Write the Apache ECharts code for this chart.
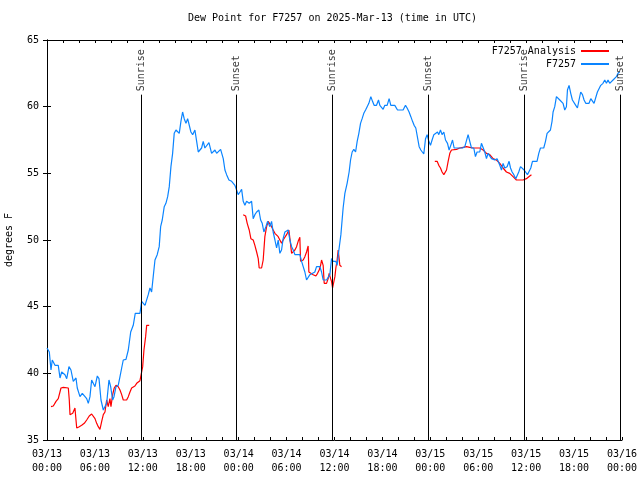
<!DOCTYPE html>
<html>
<head>
<meta charset="utf-8">
<script src="https://cdn.jsdelivr.net/npm/echarts@6/dist/echarts.min.js"></script>
<style>html,body{margin:0;padding:0;background:#fff}#c{width:640px;height:480px}</style>
</head>
<body>
<div id="c"></div>
<script>
const titleText = 'Dew Point for F7257 on 2025-Mar-13 (time in UTC)';
const yTicks = [35, 40, 45, 50, 55, 60, 65];
const obsName = 'F7257';
const anaName = 'F7257 Analysis';

const obsHours = [0.0,0.29,0.5,0.66,1.0,1.41,1.63,1.84,2.25,2.47,2.75,3.0,3.29,3.63,3.79,4.13,4.42,4.67,4.97,5.17,5.38,5.59,5.79,6.01,6.3,6.51,6.76,7.05,7.26,7.47,7.76,7.97,8.22,8.39,8.64,8.92,9.14,9.35,9.55,9.89,10.18,10.48,10.8,11.05,11.3,11.64,11.85,11.98,12.27,12.68,12.89,13.1,13.3,13.52,13.8,14.05,14.23,14.43,14.68,14.89,15.11,15.31,15.52,15.73,15.93,16.15,16.36,16.56,16.77,16.98,17.18,17.4,17.61,17.81,18.02,18.24,18.52,18.74,18.94,19.15,19.36,19.56,19.77,19.99,20.28,20.61,20.81,21.03,21.24,21.44,21.74,22.07,22.28,22.49,22.78,23.12,23.53,23.74,23.94,24.16,24.37,24.57,24.78,24.99,25.32,25.62,25.82,26.03,26.25,26.53,26.75,26.95,27.16,27.41,27.62,27.91,28.12,28.32,28.54,28.75,28.95,29.16,29.37,29.57,29.79,30.0,30.2,30.41,30.63,30.83,31.04,31.66,31.88,32.08,32.29,32.5,32.7,32.92,33.13,33.54,33.75,33.95,34.17,34.38,34.58,34.79,35.0,35.42,35.63,35.83,36.17,36.33,36.55,36.8,37.08,37.3,37.58,37.83,38.01,38.21,38.42,38.64,38.84,39.05,39.26,39.46,39.67,39.89,40.09,40.3,40.55,40.76,40.96,41.26,41.51,41.68,41.89,42.09,42.3,42.59,42.84,43.05,43.55,43.89,44.59,44.89,45.09,45.34,45.56,45.77,45.97,46.18,46.4,46.6,46.81,47.02,47.18,47.4,47.6,47.81,48.02,48.22,48.44,48.69,48.9,49.06,49.27,49.47,49.69,49.9,50.15,50.35,50.56,50.78,50.98,52.03,52.32,52.53,52.73,52.94,53.15,53.44,53.65,53.85,54.19,54.4,54.61,54.82,55.03,55.23,55.44,55.66,55.86,56.07,56.36,56.7,56.91,57.11,57.32,57.61,57.86,58.04,58.24,58.45,58.7,58.91,59.07,59.29,59.54,59.74,59.95,60.16,60.36,60.58,60.79,61.36,61.58,61.79,61.99,62.2,62.42,62.62,62.83,63.04,63.24,63.37,63.58,63.79,63.99,64.21,64.42,64.62,64.83,65.04,65.17,65.37,65.58,65.79,65.99,66.21,66.42,66.62,66.83,67.05,67.25,67.46,67.87,68.09,68.3,68.5,68.71,68.92,69.12,69.34,69.62,69.84,70.05,70.25,70.46,70.68,70.88,71.09,71.3,71.5,71.71];
const obsValues = [41.9,41.6,40.25,41.0,40.6,40.6,39.65,40.1,39.9,39.6,40.5,40.25,39.4,39.65,38.9,38.25,38.5,38.6,38.1,37.75,38.25,39.5,39.5,39.0,39.8,39.6,38.0,37.25,37.1,37.75,39.5,39.0,38.0,38.25,39.0,39.1,39.75,40.4,41.0,41.05,41.75,43.1,43.6,44.5,44.4,44.5,45.4,45.5,45.1,45.9,46.4,46.1,47.25,48.5,48.9,49.5,51.0,51.5,52.5,52.75,53.25,54.0,55.5,56.5,58.0,58.25,58.25,58.0,58.9,59.6,59.1,58.75,59.1,59.1,58.1,57.9,58.25,57.4,56.6,56.5,56.9,57.4,56.9,56.75,57.3,56.5,56.5,56.75,56.5,56.5,56.8,56.1,55.25,54.9,54.5,54.4,54.1,53.75,53.4,53.6,53.8,52.9,52.6,52.9,52.75,52.9,51.6,51.9,52.1,52.25,51.5,51.25,50.6,51.0,51.4,51.0,51.4,50.6,50.0,49.4,50.0,49.0,49.25,50.1,50.6,50.5,50.75,50.0,49.5,49.25,48.9,48.9,48.4,48.0,47.6,47.0,47.1,47.4,47.5,47.6,48.0,47.9,48.0,47.6,47.0,46.9,47.0,47.4,48.6,48.4,48.4,48.1,49.25,50.4,52.4,53.5,54.25,55.1,56.0,56.6,56.8,56.6,57.4,58.0,58.75,59.1,59.5,59.75,60.0,60.25,60.75,60.4,60.1,60.1,60.5,60.1,60.25,59.8,60.1,60.1,60.6,60.1,60.1,59.75,59.75,60.1,59.9,59.6,59.25,58.9,58.6,58.4,58.3,57.0,56.75,56.6,56.45,57.6,57.9,57.4,57.1,57.5,57.9,58.0,58.1,57.9,58.25,57.9,58.1,57.5,57.25,56.75,57.1,57.5,56.9,56.9,57.0,57.0,57.9,57.4,56.9,56.9,56.25,56.6,56.6,57.25,57.1,56.6,56.1,56.5,56.5,56.1,56.25,56.0,56.1,55.6,55.25,55.75,55.4,55.5,55.9,55.4,55.1,54.9,54.6,54.6,55.1,55.5,55.5,55.25,55.1,54.9,55.0,55.4,55.9,55.9,56.5,56.9,56.75,56.9,57.4,58.0,57.9,58.25,58.9,59.6,60.0,60.75,60.6,60.5,60.4,60.25,59.75,60.0,61.25,61.6,61.0,60.5,60.6,60.1,59.9,60.5,61.1,60.9,60.5,60.25,60.25,60.6,60.5,60.25,60.25,61.1,61.25,61.6,61.75,62.0,61.75,62.0,61.75,61.9,62.0,62.1,62.25,62.5,62.6];

const anaHours = [0.5,0.79,1.13,1.41,1.63,1.75,2.04,2.67,2.79,2.88,3.22,3.5,3.63,3.72,4.04,4.34,4.67,4.97,5.29,5.59,5.79,6.01,6.22,6.42,6.63,6.85,7.05,7.26,7.47,7.67,7.88,8.01,8.22,8.42,8.64,8.92,9.14,9.35,9.55,9.76,9.97,10.18,10.39,10.6,10.8,11.01,11.23,11.43,11.64,11.85,11.98,12.14,12.35,12.48,12.8,
  18.0,
  24.57,24.87,25.07,25.32,25.53,25.82,26.03,26.25,26.45,26.57,26.87,27.07,27.28,27.5,27.7,27.91,28.12,28.32,28.54,28.75,28.95,29.16,29.37,29.57,30.0,30.29,30.54,30.63,30.83,31.04,31.25,31.45,31.66,31.75,32.08,32.29,32.5,32.7,32.79,33.0,33.33,33.67,33.88,34.08,34.26,34.38,34.58,34.71,35.0,35.21,35.33,35.51,35.63,35.76,35.92,36.05,36.17,36.33,36.46,36.55,36.67,36.88,
  42.0,
  48.56,48.85,49.06,49.27,49.47,49.69,49.9,50.03,50.23,50.44,50.65,50.85,51.28,51.69,52.11,52.53,52.94,53.36,54.19,54.4,54.61,54.82,55.03,55.23,55.44,55.66,55.86,56.07,56.28,56.48,56.7,56.91,57.11,57.32,57.53,57.73,57.94,58.15,58.36,58.57,58.78,58.98,59.19,59.61,59.82,60.03,60.24,60.45,60.66];
const anaValues = [37.5,37.55,37.9,38.1,38.1,38.9,38.95,38.9,38.0,36.9,37.0,37.4,37.45,35.9,36.0,36.1,36.25,36.5,36.8,36.95,36.9,36.6,36.25,36.0,35.8,36.4,36.9,37.1,38.0,37.5,38.1,37.5,38.4,38.9,39.1,39.0,38.75,38.4,38.0,37.9,38.0,38.25,38.6,38.9,38.95,39.05,39.25,39.4,39.45,39.5,40.5,41.75,42.75,43.6,43.6,
  '-',
  51.9,51.8,51.25,50.75,50.1,50.0,49.6,49.1,48.6,47.9,47.9,48.5,50.25,51.0,51.4,51.4,51.0,50.75,50.5,50.4,50.25,50.0,49.75,50.0,50.4,50.75,50.75,49.0,49.0,49.25,49.5,49.9,50.2,48.4,48.5,48.75,49.1,49.55,47.6,47.5,47.4,47.3,47.5,47.75,48.1,48.5,48.1,46.75,46.75,47.1,47.5,47.1,46.9,46.4,46.4,47.25,47.9,48.5,49.25,49.4,48.1,48.0,
  '-',
  55.9,55.9,55.6,55.4,55.1,54.9,54.9,55.25,55.9,56.5,56.75,56.8,56.8,56.9,56.95,57.0,56.95,56.9,56.9,56.75,56.75,56.6,56.5,56.5,56.4,56.25,56.1,56.0,56.0,55.9,55.75,55.6,55.4,55.25,55.1,55.1,55.0,54.9,54.75,54.6,54.5,54.6,54.5,54.5,54.55,54.6,54.75,54.8,54.9];

const sunHours = [11.77, 23.67, 35.69, 47.71, 59.73, 71.75];
const sunLabels = ['Sunrise', 'Sunset', 'Sunrise', 'Sunset', 'Sunrise', 'Sunset'];
const sunLineTop = 60.9;
const sunLabelY = 61.15;

const FONT = 'DejaVu Sans Mono';
const obsData = obsHours.map((h, i) => [h, obsValues[i]]);
const anaData = anaHours.map((h, i) => [h, anaValues[i]]);
const sunData = sunHours.map((h, i) => ({ value: [h, sunLabelY], name: sunLabels[i] }));
const sunLines = sunHours.map(h => [{ coord: [h, 35] }, { coord: [h, sunLineTop] }]);

function fmtX(v) {
  const day = 13 + Math.floor(v / 24);
  const hr = v % 24;
  return '03/' + String(day) + '\n' + String(hr).padStart(2, '0') + ':00';
}

const chart = echarts.init(document.getElementById('c'), null, { renderer: 'canvas' });
const axisLine = { show: true, lineStyle: { color: '#000', width: 1 } };
chart.setOption({
  animation: false,
  backgroundColor: '#fff',
  title: {
    text: titleText, left: 188, top: 13, padding: 0,
    textStyle: { fontFamily: FONT, fontSize: 10, fontWeight: 'normal', color: '#000' }
  },
  legend: [
    { data: [anaName], right: 31, top: 46, padding: 0, orient: 'vertical', align: 'right', itemWidth: 28, itemHeight: 2, icon: 'rect',
      textStyle: { fontFamily: FONT, fontSize: 10, color: '#000' } },
    { data: [obsName], right: 31, top: 59, padding: 0, orient: 'vertical', align: 'right', itemWidth: 28, itemHeight: 2, icon: 'rect',
      textStyle: { fontFamily: FONT, fontSize: 10, color: '#000' } }
  ],
  grid: { left: 47, right: 18, top: 40, bottom: 40, show: false, containLabel: false, outerBoundsMode: 'none' },
  xAxis: [
    { type: 'value', min: 0, max: 72, interval: 6, position: 'bottom',
      axisLine, splitLine: { show: false },
      axisTick: { show: true, inside: true, length: 3, lineStyle: { color: '#000' } },
      minorTick: { show: true, splitNumber: 3, length: 3, lineStyle: { color: '#000' } },
      axisLabel: { formatter: fmtX, color: '#000', fontFamily: FONT, fontSize: 10, lineHeight: 14, margin: 7 } },
    { type: 'value', min: 0, max: 72, interval: 6, position: 'top',
      axisLine, splitLine: { show: false },
      axisTick: { show: true, inside: true, length: 3, lineStyle: { color: '#000' } },
      minorTick: { show: true, splitNumber: 3, length: 3, lineStyle: { color: '#000' } },
      axisLabel: { show: false } }
  ],
  yAxis: [
    { type: 'value', min: 35, max: 65, interval: 5, position: 'left',
      name: 'degrees F', nameLocation: 'middle', nameGap: 33, nameRotate: 90,
      nameTextStyle: { fontFamily: FONT, fontSize: 10, color: '#000' },
      axisLine, splitLine: { show: false },
      axisTick: { show: true, inside: true, length: 4, lineStyle: { color: '#000' } },
      axisLabel: { color: '#000', fontFamily: FONT, fontSize: 10, margin: 8,
        formatter: v => yTicks.includes(v) ? String(v) : '' } },
    { type: 'value', min: 35, max: 65, interval: 5, position: 'right',
      axisLine, splitLine: { show: false },
      axisTick: { show: true, inside: true, length: 4, lineStyle: { color: '#000' } },
      axisLabel: { show: false } }
  ],
  series: [
    { name: anaName, type: 'line', data: anaData, showSymbol: false, symbol: 'none',
      connectNulls: false, lineStyle: { color: '#ff0000', width: 1.2 }, itemStyle: { color: '#ff0000' }, z: 3 },
    { name: obsName, type: 'line', data: obsData, showSymbol: false, symbol: 'none',
      lineStyle: { color: '#0a84ff', width: 1.2 }, itemStyle: { color: '#0a84ff' }, z: 4 },
    { name: 'sun', type: 'scatter', data: sunData, symbolSize: 0, silent: true, z: 5,
      label: { show: true, formatter: p => p.name, rotate: 90, position: 'inside', align: 'left', verticalAlign: 'middle',
        color: '#000', fontFamily: FONT, fontSize: 10 },
      markLine: { silent: true, symbol: 'none', label: { show: false },
        lineStyle: { color: '#000', width: 1, type: 'solid' }, data: sunLines } }
  ]
});
</script>
</body>
</html>
